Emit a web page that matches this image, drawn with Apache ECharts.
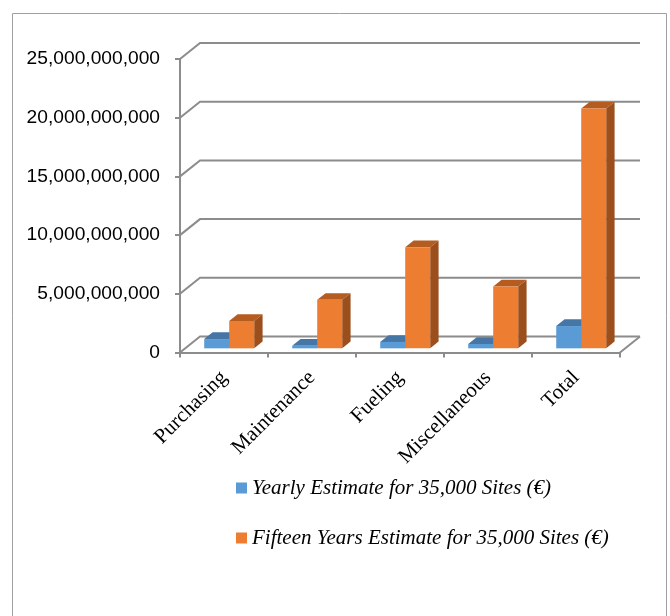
<!DOCTYPE html>
<html>
<head>
<meta charset="utf-8">
<script src="https://cdn.jsdelivr.net/npm/echarts@6/dist/echarts.min.js"></script>
<style>
html,body{margin:0;padding:0;background:#fff;}
#c{width:670px;height:616px;}
</style>
</head>
<body>
<div id="c"></div>
<script>
const categories = ['Purchasing', 'Maintenance', 'Fueling', 'Miscellaneous', 'Total'];
const yearly = [0.79e9, 0.22e9, 0.55e9, 0.37e9, 1.9e9];
const fifteen = [2.33e9, 4.13e9, 8.62e9, 5.26e9, 20.42e9];
const seriesNames = ['Yearly Estimate for 35,000 Sites (\u20AC)', 'Fifteen Years Estimate for 35,000 Sites (\u20AC)'];
const yTicks = [0, 5e9, 10e9, 15e9, 20e9, 25e9];

const DX = 20, DY = -16;         // depth offset of the back wall
const F0 = 0.26, F1 = 0.68;      // bar front/back depth fractions
const BAR_FRAC = 0.284;          // bar width as fraction of band
const GRID_COLOR = '#8c8c8c';
const faceColors = [
  { front: '#5b9bd5', top: '#4576a6', side: '#3d6a96' },
  { front: '#ed7d31', top: '#b55c20', side: '#9a4f1d' }
];

function barRenderer(si) {
  return function (params, api) {
    const cat = api.value(0), val = api.value(1);
    const base = api.coord([cat, 0]);
    const top = api.coord([cat, val]);
    const band = api.size([1, 0])[0];
    const bw = band * BAR_FRAC;
    const xl = base[0] - bw + si * bw;
    const xr = xl + bw;
    const fx = DX * F0, fy = DY * F0, bx = DX * F1, by = DY * F1;
    const c = faceColors[si];
    const yt = top[1], yb = base[1];
    return {
      type: 'group',
      children: [
        { type: 'polygon', shape: { points: [[xl + fx, yt + fy], [xr + fx, yt + fy], [xr + bx, yt + by], [xl + bx, yt + by]] }, style: { fill: c.top } },
        { type: 'polygon', shape: { points: [[xr + fx, yt + fy], [xr + bx, yt + by], [xr + bx, yb + by], [xr + fx, yb + fy]] }, style: { fill: c.side } },
        { type: 'rect', shape: { x: xl + fx, y: yt + fy, width: bw, height: yb - yt }, style: { fill: c.front } }
      ]
    };
  };
}

function gridRenderer(params, api) {
  const cs = params.coordSys;
  const v = api.value(1);
  const p = api.coord([0, v]);
  const y = p[1];
  const x0 = cs.x, x1 = cs.x + cs.width;
  const children = [
    { type: 'polyline', shape: { points: [[x0, y], [x0 + DX, y + DY], [x1 + DX, y + DY]] }, style: { stroke: GRID_COLOR, lineWidth: 2, fill: null } }
  ];
  if (v === 0) {
    children.push({ type: 'line', shape: { x1: x1, y1: y, x2: x1 + DX, y2: y + DY }, style: { stroke: GRID_COLOR, lineWidth: 2 } });
  }
  return { type: 'group', children: children };
}

const chart = echarts.init(document.getElementById('c'), null, { renderer: 'canvas' });
chart.setOption({
  animation: false,
  backgroundColor: '#ffffff',
  graphic: [
    { type: 'rect', shape: { x: 12.5, y: 13.5, width: 654, height: 700 }, style: { fill: null, stroke: '#a0a0a0', lineWidth: 1 }, silent: true, z: -10 }
  ],
  grid: { left: 180, right: 50, top: 59, bottom: 263.5 },
  legend: {
    orient: 'vertical',
    left: 231,
    top: 471,
    itemWidth: 11,
    itemHeight: 11,
    itemGap: 26,
    icon: 'rect',
    data: seriesNames,
    textStyle: { fontFamily: 'Liberation Serif', fontStyle: 'italic', fontSize: 21, color: '#000', lineHeight: 24 }
  },
  xAxis: {
    type: 'category',
    data: categories,
    boundaryGap: true,
    axisLine: { show: true, lineStyle: { color: GRID_COLOR, width: 2 } },
    axisTick: { show: true, length: 5, lineStyle: { color: GRID_COLOR, width: 2 } },
    axisLabel: { rotate: 45, interval: 0, margin: 22, fontFamily: 'Liberation Serif', fontSize: 21, color: '#000' },
    splitLine: { show: false }
  },
  yAxis: {
    type: 'value',
    min: 0,
    max: 25e9,
    interval: 5e9,
    axisLine: { show: true, lineStyle: { color: GRID_COLOR, width: 2 } },
    axisTick: { show: true, length: 5, lineStyle: { color: GRID_COLOR, width: 2 } },
    splitLine: { show: false },
    axisLabel: {
      margin: 20,
      fontFamily: 'Liberation Sans',
      fontSize: 19.2,
      color: '#000',
      formatter: function (v) { return v.toLocaleString('en-US'); }
    }
  },
  series: [
    {
      type: 'custom', name: '_grid', silent: true, z: 1,
      renderItem: gridRenderer,
      data: yTicks.map(function (v) { return [0, v]; }),
      encode: { x: 0, y: 1 }
    },
    {
      type: 'custom', name: seriesNames[0], z: 3,
      itemStyle: { color: faceColors[0].front },
      renderItem: barRenderer(0),
      data: categories.map(function (c, i) { return [i, yearly[i]]; }),
      encode: { x: 0, y: 1 }
    },
    {
      type: 'custom', name: seriesNames[1], z: 3,
      itemStyle: { color: faceColors[1].front },
      renderItem: barRenderer(1),
      data: categories.map(function (c, i) { return [i, fifteen[i]]; }),
      encode: { x: 0, y: 1 }
    }
  ]
});
</script>
</body>
</html>
